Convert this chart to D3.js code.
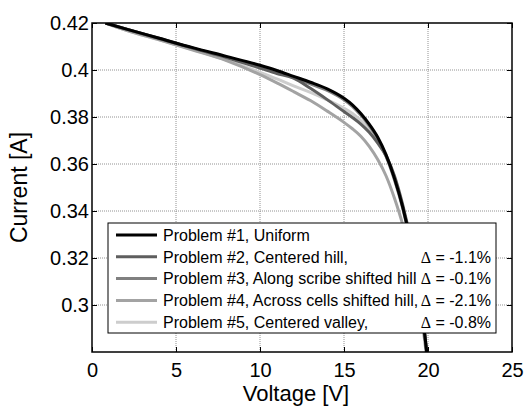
<!DOCTYPE html>
<html>
<head>
  <meta charset="UTF-8">
  <style>
    body { margin: 0; padding: 0; background: #fff; }
    svg { display: block; font-family: Arial, "Liberation Sans", sans-serif; }
    .grid line { stroke: #777; stroke-width: 0.8; stroke-dasharray: 1,1; }
    .axis path { display: none; }
    .axis line { stroke: #000; stroke-width: 1; }
    .axis text { font-size: 20px; fill: #000; font-family: Arial, "Liberation Sans", sans-serif; }
  </style>
</head>
<body>
<svg width="526" height="408"></svg>
<script src="https://d3js.org/d3.v7.min.js"></script>
<script>
// voltage samples (V) shared by all curves
const voltage = [0.8, 2, 4, 6, 8, 10, 11, 12, 13, 14, 15, 15.5, 16, 16.5, 17, 17.5, 18, 18.5, 19, 19.5, 19.8, 20.2];

// current (A) for each problem
const p1 = [0.420, 0.4175, 0.4135, 0.4095, 0.4058, 0.4020, 0.3998, 0.3973, 0.3948, 0.3920, 0.3880, 0.3852, 0.3815, 0.3770, 0.3715, 0.3640, 0.3540, 0.3415, 0.3255, 0.3050, 0.2880, 0.2620];
const p2 = [0.420, 0.4175, 0.4135, 0.4093, 0.4053, 0.4008, 0.3985, 0.3965, 0.3922, 0.3874, 0.3823, 0.3798, 0.3770, 0.3735, 0.3690, 0.3635, 0.3550, 0.3425, 0.3265, 0.3055, 0.2878, 0.2620];
const p3 = [0.420, 0.4175, 0.4133, 0.4093, 0.4055, 0.4016, 0.3993, 0.3967, 0.3941, 0.3913, 0.3873, 0.3845, 0.3808, 0.3763, 0.3708, 0.3633, 0.3533, 0.3410, 0.3250, 0.3047, 0.2878, 0.2620];
const p4 = [0.420, 0.4170, 0.4128, 0.4085, 0.4040, 0.3980, 0.3945, 0.3908, 0.3870, 0.3825, 0.3777, 0.3750, 0.3718, 0.3675, 0.3620, 0.3550, 0.3455, 0.3340, 0.3190, 0.2995, 0.2850, 0.2580];
const p5 = [0.420, 0.4170, 0.4128, 0.4087, 0.4042, 0.3990, 0.3962, 0.3932, 0.3905, 0.3873, 0.3837, 0.3815, 0.3785, 0.3748, 0.3702, 0.3640, 0.3545, 0.3420, 0.3262, 0.3055, 0.2880, 0.2620];

const seriesNames = [
  "Problem #1, Uniform",
  "Problem #2, Centered hill,",
  "Problem #3, Along scribe shifted hill",
  "Problem #4, Across cells shifted hill,",
  "Problem #5, Centered valley,"
];
const deltas = ["", "-1.1%", "-0.1%", "-2.1%", "-0.8%"];
const colors = ["#000000", "#5e5e5e", "#808080", "#a3a3a3", "#cdcdcd"];

const xTicks = [0, 5, 10, 15, 20, 25];
const yTicks = [0.30, 0.32, 0.34, 0.36, 0.38, 0.40, 0.42];

let pLeft = 92, pTop = 23, pRight = 512, pBottom = 352;

let svg = d3.select("svg");

let x = d3.scaleLinear().domain([0, 25]).range([pLeft, pRight]);
let y = d3.scaleLinear().domain([0.28, 0.42]).range([pBottom, pTop]);

svg.append("defs").append("clipPath").attr("id", "plot")
  .append("rect")
  .attr("x", pLeft).attr("y", pTop)
  .attr("width", pRight - pLeft).attr("height", pBottom - pTop);

// dotted grid
let grid = svg.append("g").attr("class", "grid");
grid.selectAll(".gx").data(xTicks.slice(1, -1)).enter().append("line")
  .attr("x1", d => x(d)).attr("x2", d => x(d))
  .attr("y1", pTop).attr("y2", pBottom);
grid.selectAll(".gy").data(yTicks.slice(0, -1)).enter().append("line")
  .attr("x1", pLeft).attr("x2", pRight)
  .attr("y1", d => y(d)).attr("y2", d => y(d));

// axes, ticks inside on all four sides
let fmtY = d => d3.format(".2f")(d).replace(/0$/, "");
svg.append("g").attr("class", "axis")
  .attr("transform", "translate(0," + pBottom + ")")
  .call(d3.axisBottom(x).tickValues(xTicks).tickSize(-5).tickPadding(11).tickFormat(d3.format("d")));
svg.append("g").attr("class", "axis")
  .attr("transform", "translate(0," + pTop + ")")
  .call(d3.axisTop(x).tickValues(xTicks).tickSize(-5).tickFormat(""));
svg.append("g").attr("class", "axis")
  .attr("transform", "translate(" + pLeft + ",0)")
  .call(d3.axisLeft(y).tickValues(yTicks).tickSize(-5).tickPadding(3).tickFormat(fmtY));
svg.append("g").attr("class", "axis")
  .attr("transform", "translate(" + pRight + ",0)")
  .call(d3.axisRight(y).tickValues(yTicks).tickSize(-5).tickFormat(""));

// curves
let allSeries = [p1, p2, p3, p4, p5];
let line = d3.line()
  .x((d, i) => x(voltage[i]))
  .y(d => y(d))
  .curve(d3.curveMonotoneX);

let curves = svg.append("g").attr("clip-path", "url(#plot)");
curves.selectAll("path")
  .data(allSeries.map((s, i) => ({ s: s, i: i })).reverse())
  .enter().append("path")
  .attr("d", d => line(d.s))
  .attr("fill", "none")
  .attr("stroke", d => colors[d.i])
  .attr("stroke-width", 3)
  .attr("stroke-linejoin", "round");

// box
svg.append("rect")
  .attr("x", pLeft).attr("y", pTop)
  .attr("width", pRight - pLeft).attr("height", pBottom - pTop)
  .attr("fill", "none").attr("stroke", "#000").attr("stroke-width", 1.5);

// legend
let legend = svg.append("g");
legend.append("rect")
  .attr("x", 108).attr("y", 223).attr("width", 388).attr("height", 110)
  .attr("fill", "#fff").attr("stroke", "#000").attr("stroke-width", 1);

let rows = legend.selectAll(".row").data(seriesNames).enter().append("g")
  .attr("transform", (d, i) => "translate(0," + (235 + i * 21.8) + ")");
rows.append("line")
  .attr("x1", 116).attr("x2", 157).attr("y1", 0).attr("y2", 0)
  .attr("stroke", (d, i) => colors[i]).attr("stroke-width", 3);
rows.append("text")
  .attr("x", 163).attr("y", 0).attr("dy", "0.36em")
  .attr("font-size", 16)
  .text(d => d);
let dt = rows.filter((d, i) => deltas[i] !== "").append("text")
  .attr("x", 491).attr("y", 0).attr("dy", "0.36em")
  .attr("font-size", 16).attr("text-anchor", "end");
dt.append("tspan").attr("font-family", "'Liberation Serif', 'Times New Roman', serif").text("\u0394");
dt.append("tspan").text((d, i) => " = " + deltas[i + 1]);

// axis labels
svg.append("text")
  .attr("x", 296).attr("y", 401)
  .attr("text-anchor", "middle").attr("font-size", 22)
  .text("Voltage [V]");
svg.append("text")
  .attr("transform", "translate(27," + ((pTop + pBottom) / 2) + ") rotate(-90)")
  .attr("text-anchor", "middle").attr("font-size", 23)
  .text("Current [A]");
</script>
</body>
</html>
